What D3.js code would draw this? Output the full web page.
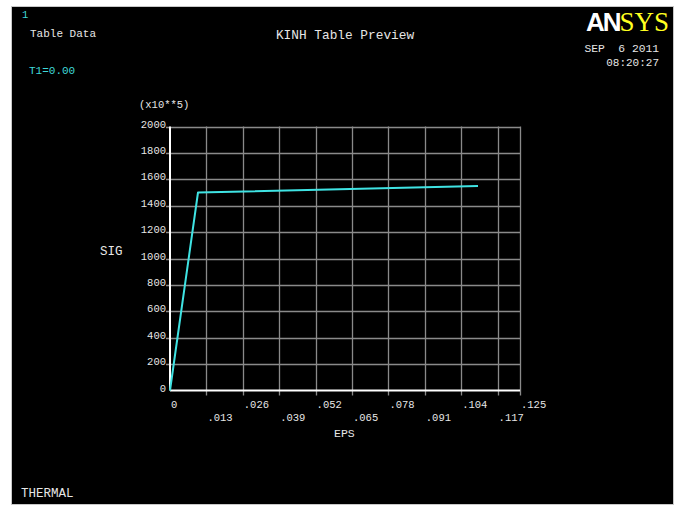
<!DOCTYPE html>
<html>
<head>
<meta charset="utf-8">
<script src="https://cdn.jsdelivr.net/npm/d3@7"></script>
<style>
  html, body { margin: 0; padding: 0; background: #ffffff; }
  svg { display: block; }
  text { font-family: "Liberation Mono", "DejaVu Sans Mono", monospace; }
</style>
</head>
<body>
<svg id="chart" width="681" height="506"></svg>
<script>
// Multilinear kinematic hardening curve: strain vs stress (x10**5)
const epsValues = [0, 0.01, 0.11];
const sigValues = [0, 1500, 1550];

// Axis ticks
const xTicks = [0, 0.013, 0.026, 0.039, 0.052, 0.065, 0.078, 0.091, 0.104, 0.117, 0.125];
const xTickLabels = ["0", ".013", ".026", ".039", ".052", ".065", ".078", ".091", ".104", ".117", ".125"];
const yTicks = [0, 200, 400, 600, 800, 1000, 1200, 1400, 1600, 1800, 2000];

const svg = d3.select("#chart");

// Graphics window panel
svg.append("rect")
  .attr("x", 11.5).attr("y", 6.5)
  .attr("width", 662).attr("height", 498)
  .attr("fill", "#000000")
  .attr("stroke", "#c8c8c8").attr("stroke-width", 1);

const x = d3.scaleLinear().domain([0, 0.125]).range([170, 520]);
const y = d3.scaleLinear().domain([0, 2000]).range([390.5, 126.5]);

const gridColor = "#8a8a8a";
const labelColor = "#e6e6e6";

// Horizontal grid lines (with short tick to the left)
svg.append("g").selectAll("line")
  .data(yTicks.filter(d => d > 0))
  .join("line")
  .attr("x1", x(0) - 4).attr("x2", x(0.125))
  .attr("y1", d => Math.round(y(d)) + 0.5).attr("y2", d => Math.round(y(d)) + 0.5)
  .attr("stroke", gridColor).attr("stroke-width", 1.3);

// Vertical grid lines (extending below as ticks)
svg.append("g").selectAll("line")
  .data(xTicks.filter(d => d > 0))
  .join("line")
  .attr("x1", d => Math.round(x(d)) + 0.5).attr("x2", d => Math.round(x(d)) + 0.5)
  .attr("y1", y(2000)).attr("y2", y(0) + 5)
  .attr("stroke", gridColor).attr("stroke-width", 1.3);

// Axis lines
svg.append("line")
  .attr("x1", x(0)).attr("x2", x(0.125))
  .attr("y1", y(0)).attr("y2", y(0))
  .attr("stroke", "#ffffff").attr("stroke-width", 2);
svg.append("line")
  .attr("x1", x(0)).attr("x2", x(0))
  .attr("y1", y(2000)).attr("y2", y(0))
  .attr("stroke", "#ffffff").attr("stroke-width", 2);

// Y tick labels
svg.append("g").selectAll("text")
  .data(yTicks)
  .join("text")
  .attr("x", x(0) - 4)
  .attr("y", d => y(d) + 1)
  .attr("text-anchor", "end")
  .attr("font-size", 10.5)
  .attr("fill", labelColor)
  .text(d => d);

// X tick labels, alternating rows
svg.append("g").selectAll("text")
  .data(xTicks)
  .join("text")
  .attr("x", d => x(d) + 1)
  .attr("y", (d, i) => i % 2 === 0 ? 408 : 421)
  .attr("text-anchor", "start")
  .attr("font-size", 10.5)
  .attr("fill", labelColor)
  .text((d, i) => xTickLabels[i]);

// Curve
const line = d3.line().x((d, i) => x(epsValues[i])).y(d => y(d));
svg.append("path")
  .datum(sigValues)
  .attr("d", line)
  .attr("fill", "none")
  .attr("stroke", "#3fe3e3")
  .attr("stroke-width", 2)
  .attr("stroke-linejoin", "round");

// Axis titles
svg.append("text").attr("x", 139).attr("y", 108)
  .attr("font-size", 10.5).attr("fill", labelColor).text("(x10**5)");
svg.append("text").attr("x", 100).attr("y", 255)
  .attr("font-size", 12.5).attr("fill", labelColor).text("SIG");
svg.append("text").attr("x", 334).attr("y", 437)
  .attr("font-size", 11.5).attr("fill", labelColor).text("EPS");

// Header texts
svg.append("text").attr("x", 22).attr("y", 18)
  .attr("font-size", 10.5).attr("fill", "#3fd8d8").text("1");
svg.append("text").attr("x", 30).attr("y", 37)
  .attr("font-size", 11).attr("fill", labelColor).text("Table Data");
svg.append("text").attr("x", 29).attr("y", 74)
  .attr("font-size", 11).attr("fill", "#3fd8d8").text("T1=0.00");
svg.append("text").attr("x", 345).attr("y", 39)
  .attr("text-anchor", "middle")
  .attr("font-size", 12.8).attr("fill", labelColor).text("KINH Table Preview");
svg.append("text").attr("x", 659).attr("y", 52)
  .attr("text-anchor", "end").attr("xml:space", "preserve")
  .attr("font-size", 11.3).attr("fill", labelColor).text("SEP  6 2011");
svg.append("text").attr("x", 659).attr("y", 66)
  .attr("text-anchor", "end")
  .attr("font-size", 11).attr("fill", labelColor).text("08:20:27");
svg.append("text").attr("x", 21).attr("y", 497)
  .attr("font-size", 12.5).attr("fill", labelColor).text("THERMAL");

// Logo
const logo = svg.append("text").attr("x", 669).attr("y", 31)
  .attr("text-anchor", "end");
logo.append("tspan")
  .attr("font-family", "Liberation Sans, Arial, sans-serif")
  .attr("font-weight", "bold").attr("font-size", 26)
  .attr("letter-spacing", -2)
  .attr("fill", "#ffffff").text("AN");
logo.append("tspan")
  .attr("font-family", "Liberation Serif, Times New Roman, serif")
  .attr("font-size", 27)
  .attr("fill", "#ffff20").text("SYS");
</script>
</body>
</html>
